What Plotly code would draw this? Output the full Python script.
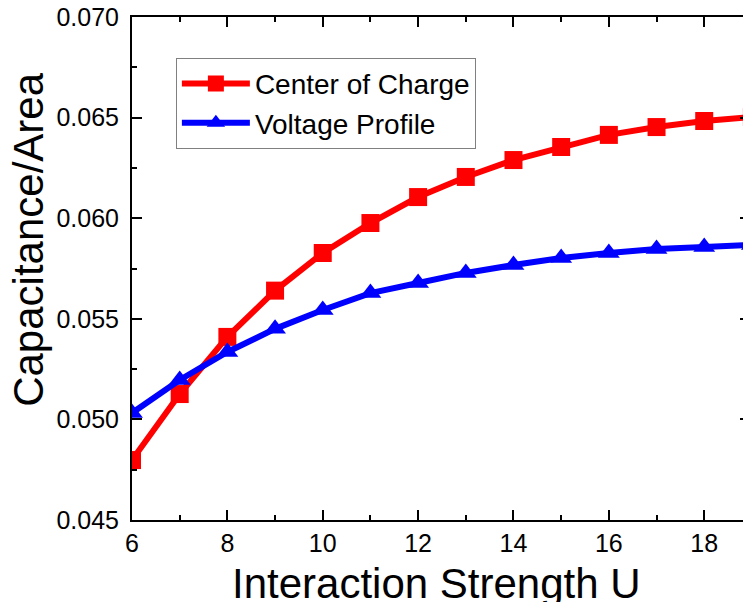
import plotly.graph_objects as go

u_values = [6, 7, 8, 9, 10, 11, 12, 13, 14, 15, 16, 17, 18, 19]
center_of_charge = [0.04798, 0.05126, 0.05410, 0.05640, 0.05827, 0.05976, 0.06105,
                    0.06205, 0.06289, 0.06354, 0.06414, 0.06453, 0.06483, 0.06503]
voltage_profile = [0.05032, 0.05196, 0.05335, 0.05450, 0.05544, 0.05628, 0.05678,
                   0.05728, 0.05767, 0.05802, 0.05827, 0.05847, 0.05857, 0.05867]
x_title = "Interaction Strength U"
y_title = "Capacitance/Area"

FONT = "Liberation Sans, Arial, sans-serif"

fig = go.Figure()
fig.add_trace(go.Scatter(
    x=u_values, y=center_of_charge, name="Center of Charge",
    mode="lines+markers",
    line=dict(color="#ff0000", width=6),
    marker=dict(symbol="square", size=18, color="#ff0000"),
))
fig.add_trace(go.Scatter(
    x=u_values, y=voltage_profile, name="Voltage Profile",
    mode="lines+markers",
    line=dict(color="#0000ff", width=6),
    marker=dict(symbol="triangle-up", size=19, color="#0000ff"),
))

axis_common = dict(
    showline=True, linecolor="black", linewidth=2, mirror="allticks",
    ticks="inside", ticklen=10, tickwidth=2, tickcolor="black",
    showgrid=False, zeroline=False, automargin=False,
    ticklabeloverflow="allow",
    tickfont=dict(family=FONT, size=25, color="black"),
)

fig.update_xaxes(
    range=[6, 18.96], tick0=6, dtick=2,
    minor=dict(ticks="inside", ticklen=5, tickwidth=2, tickcolor="black", dtick=1, showgrid=False),
    ticklabelstandoff=0,
    **axis_common,
)
fig.update_yaxes(
    range=[0.045, 0.070], tick0=0.045, dtick=0.005, tickformat=".3f",
    minor=dict(ticks="inside", ticklen=5, tickwidth=2, tickcolor="black", dtick=0.0025, showgrid=False),
    ticklabelstandoff=6,
    **axis_common,
)

# axis titles placed as annotations for exact positioning
fig.add_annotation(
    text=x_title, xref="paper", yref="paper", x=0.492, y=0,
    xanchor="center", yanchor="middle", yshift=-63, showarrow=False,
    font=dict(family=FONT, size=42, color="black"),
)
fig.add_annotation(
    text=y_title, xref="paper", yref="paper", x=0, y=0.557,
    xanchor="center", yanchor="middle", xshift=-103, textangle=-90, showarrow=False,
    font=dict(family=FONT, size=42, color="black"),
)

# page body has an 8px margin, so the figure is placed at (8, 8)
fig.update_layout(
    width=743, height=594,
    margin=dict(l=124, r=1, t=9, b=82),
    paper_bgcolor="white", plot_bgcolor="white",
    showlegend=True,
    legend=dict(
        x=0.071, y=0.919, xanchor="left", yanchor="top",
        bgcolor="white", bordercolor="#808080", borderwidth=1,
        font=dict(family=FONT, size=28, color="black"),
        itemwidth=68, tracegroupgap=0,
    ),
)

fig.write_html("out.html")
